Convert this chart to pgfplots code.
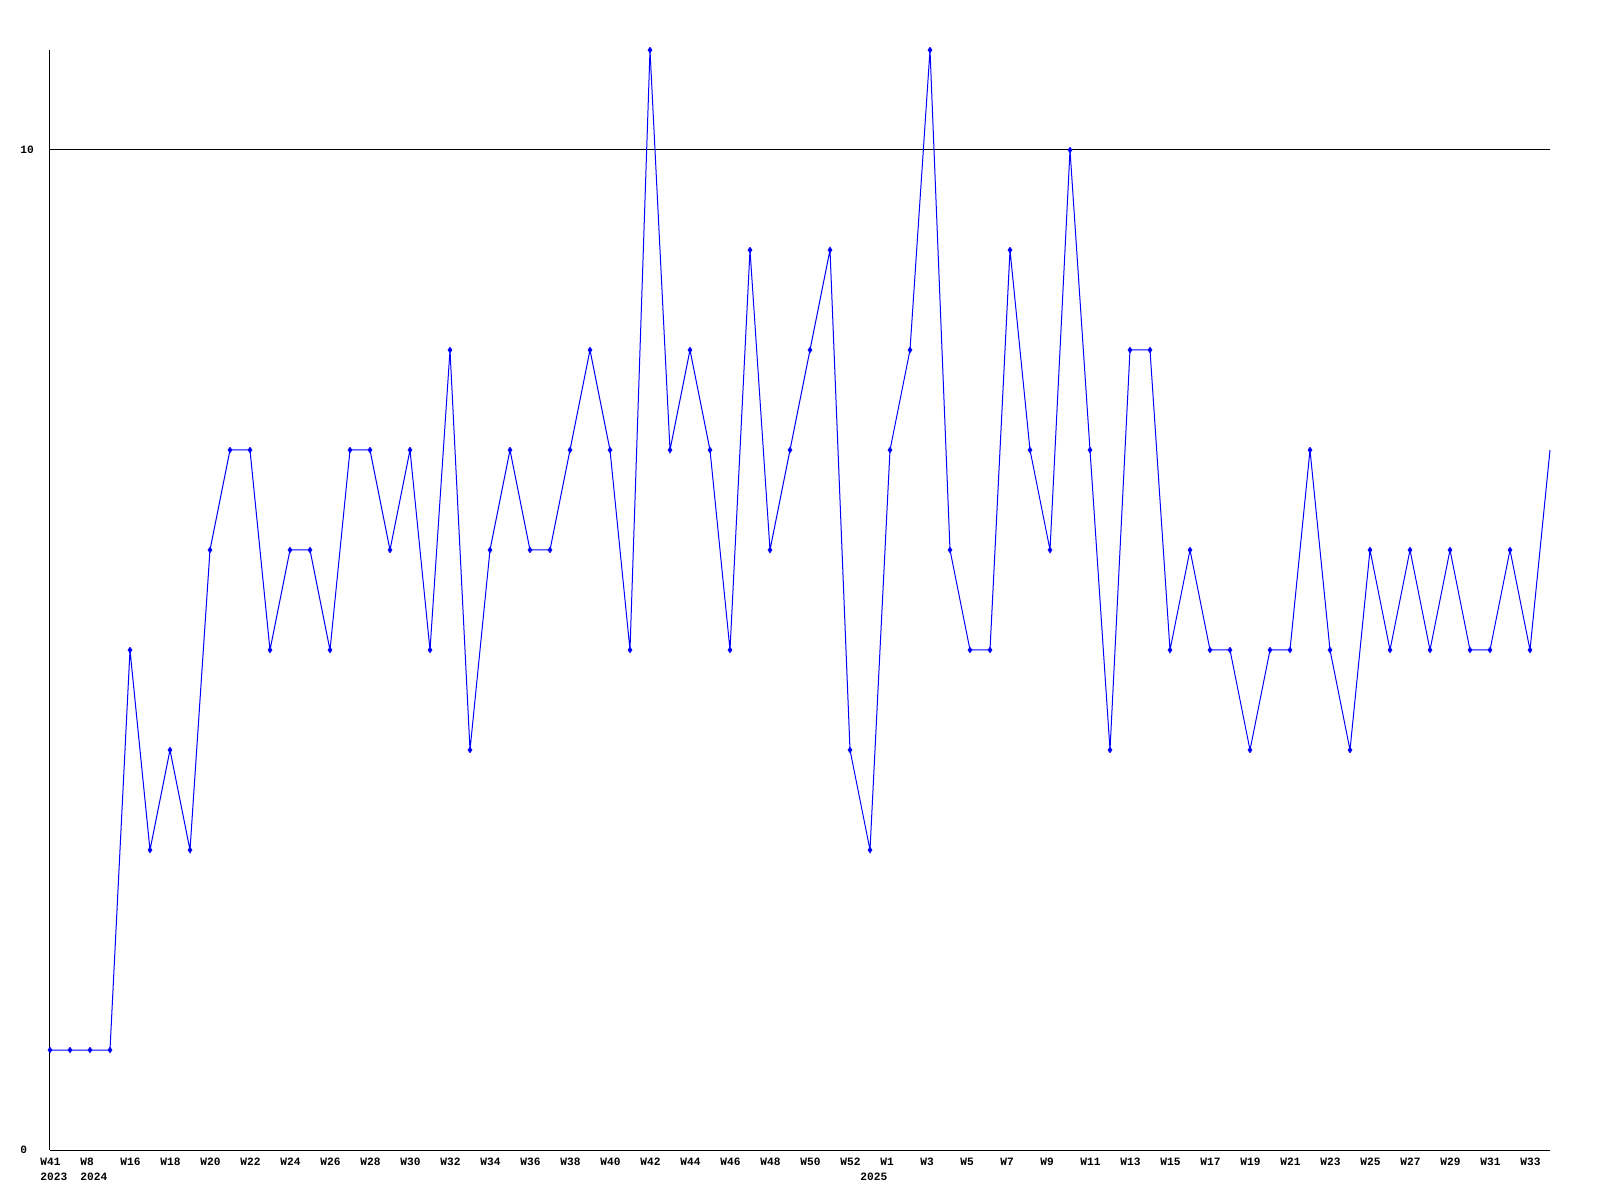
\documentclass[border=0pt]{standalone}
\usepackage{fontspec}
\setmainfont{Liberation Mono}
\usepackage{pgfplots}
\pgfplotsset{compat=1.18}
\definecolor{lineblue}{RGB}{0,0,255}
\begin{document}
\begin{tikzpicture}
\begin{axis}[
 scale only axis, width=750pt, height=550pt,
 xmin=0, xmax=75, ymin=0, ymax=11,
 axis x line=bottom, axis y line=left,
 axis line style={-, line width=0.5pt, black},
 xtick={0,2,...,74},
 xticklabels={{W41\\2023},{W8\\2024},W16,W18,W20,W22,W24,W26,W28,W30,W32,W34,W36,W38,W40,W42,W44,W46,W48,W50,W52,W1,W3,W5,W7,W9,W11,W13,W15,W17,W19,W21,W23,W25,W27,W29,W31,W33},
 extra x ticks={41}, extra x tick labels={{\phantom{W}\\2025}},
 ytick={0,10},
 ymajorgrids, grid style={black, line width=0.5pt},
 major tick length=0pt,
 tick label style={font=\fontsize{5.6}{7.5}\selectfont\bfseries, inner sep=0pt},
 xticklabel style={anchor=north west, align=left, xshift=-5pt, yshift=-4pt},
 yticklabel style={anchor=west, xshift=-15pt},
 /pgf/number format/assume math mode=true,
 clip=false,
]
\addplot[color=lineblue, line width=0.5pt, mark=diamond*, mark size=1.35pt,
  mark options={line width=0.3pt, fill=lineblue}, mark indices={1,...,75}]
 coordinates {
 (0,1)(1,1)(2,1)(3,1)(4,5)(5,3)(6,4)(7,3)(8,6)(9,7)
 (10,7)(11,5)(12,6)(13,6)(14,5)(15,7)(16,7)(17,6)(18,7)(19,5)
 (20,8)(21,4)(22,6)(23,7)(24,6)(25,6)(26,7)(27,8)(28,7)(29,5)
 (30,11)(31,7)(32,8)(33,7)(34,5)(35,9)(36,6)(37,7)(38,8)(39,9)
 (40,4)(41,3)(42,7)(43,8)(44,11)(45,6)(46,5)(47,5)(48,9)(49,7)
 (50,6)(51,10)(52,7)(53,4)(54,8)(55,8)(56,5)(57,6)(58,5)(59,5)
 (60,4)(61,5)(62,5)(63,7)(64,5)(65,4)(66,6)(67,5)(68,6)(69,5)
 (70,6)(71,5)(72,5)(73,6)(74,5)(75,7)
 };
\end{axis}
\path ([shift={(-25pt,-25pt)}]current axis.south west) rectangle ([shift={(25pt,25pt)}]current axis.north east);
\end{tikzpicture}
\end{document}
